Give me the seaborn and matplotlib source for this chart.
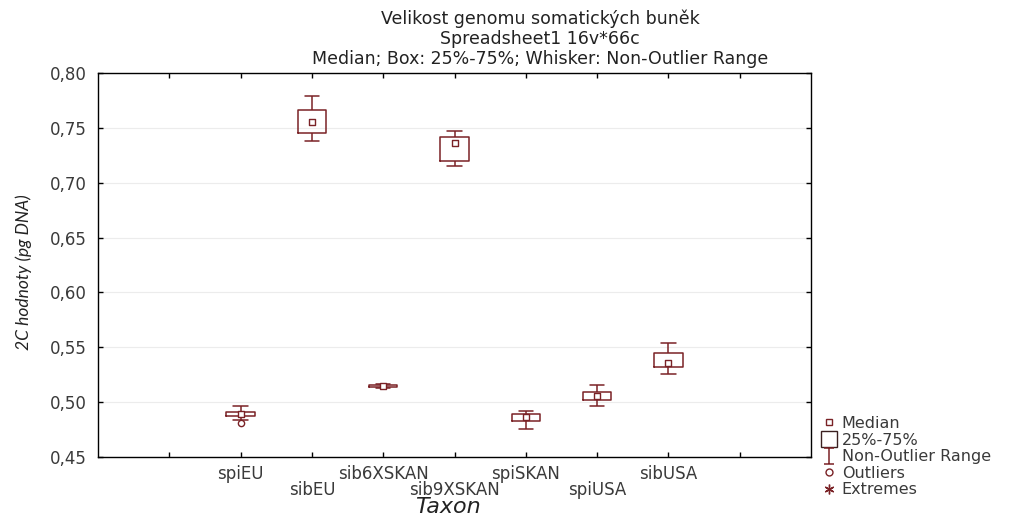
import numpy as np
import pandas as pd
import matplotlib
matplotlib.use("Agg")
import matplotlib.pyplot as plt
from matplotlib.lines import Line2D
from matplotlib.path import Path
import seaborn as sns

# ---- data ----
categories = ["spiEU", "sibEU", "sib6XSKAN", "sib9XSKAN", "spiSKAN", "spiUSA", "sibUSA"]
whisker_low = [0.4837, 0.7380, 0.5132, 0.7152, 0.4752, 0.4964, 0.5253]
q1          = [0.4873, 0.7453, 0.5140, 0.7200, 0.4831, 0.5018, 0.5323]
medians     = [0.4888, 0.7553, 0.5150, 0.7365, 0.4862, 0.5058, 0.5354]
q3          = [0.4913, 0.7663, 0.5160, 0.7420, 0.4892, 0.5090, 0.5450]
whisker_high = [0.4964, 0.7793, 0.5168, 0.7471, 0.4919, 0.5153, 0.5542]
outlier_taxa = ["spiEU"]
outlier_vals = [0.4807]
ytick_vals = [0.45, 0.50, 0.55, 0.60, 0.65, 0.70, 0.75, 0.80]
ytick_labels = ["0,45", "0,50", "0,55", "0,60", "0,65", "0,70", "0,75", "0,80"]
title_lines = ["Velikost genomu somatických buněk",
               "Spreadsheet1 16v*66c",
               "Median; Box: 25%-75%; Whisker: Non-Outlier Range"]

# five-number summary per taxon -> long table
rows = []
for i, c in enumerate(categories):
    for v in (whisker_low[i], q1[i], medians[i], q3[i], whisker_high[i]):
        rows.append({"Taxon": c, "value": v})
df = pd.DataFrame(rows)
df_med = pd.DataFrame({"Taxon": categories, "value": medians})
df_out = pd.DataFrame({"Taxon": outlier_taxa, "value": outlier_vals})

sns.set_theme(style="white")
plt.rcParams["font.family"] = ["DejaVu Sans"]

MAROON = "#7a2226"

fig = plt.figure(figsize=(10.16, 5.19), dpi=100)
ax = fig.add_axes([98/1016, 1-457/519, (811-98)/1016, (457-73)/519])

sns.boxplot(data=df, x="Taxon", y="value", order=categories, ax=ax,
            fill=False, color=MAROON, width=0.4, linewidth=1.1,
            whis=(0, 100), showfliers=False,
            medianprops={"visible": False})
sns.stripplot(data=df_med, x="Taxon", y="value", order=categories, ax=ax,
              jitter=False, marker="s", size=4.5, color="white",
              edgecolor=MAROON, linewidth=1.0, zorder=5)
sns.stripplot(data=df_out, x="Taxon", y="value", order=categories, ax=ax,
              jitter=False, marker="o", size=4.5, color="white",
              edgecolor=MAROON, linewidth=1.0, zorder=5)

ax.set_xlim(-2, 8)
ax.set_ylim(0.45, 0.80)
ax.set_yticks(ytick_vals)
ax.set_yticklabels(ytick_labels)
ax.yaxis.grid(True, color="#ececec", linewidth=0.8)
ax.xaxis.grid(False)
ax.set_axisbelow(True)

xt = list(range(-1, len(categories) + 1))
ax.set_xticks(xt)
ax.set_xticklabels([""] + categories + [""])
ax.tick_params(axis="both", which="major", direction="in", length=3.5, width=1,
               color="black", top=True, right=True, bottom=True, left=True,
               labelsize=12, labelcolor="#3a3a3a")
ax.tick_params(axis="y", pad=8.0)
for k, t in enumerate(ax.xaxis.get_major_ticks()):
    idx = k - 1
    t.set_pad(17 if (idx >= 0 and idx % 2 == 1) else 5.5)

for s in ax.spines.values():
    s.set_visible(True)
    s.set_color("black")
    s.set_linewidth(1.0)

ax.set_xlabel("Taxon", fontsize=16, style="italic", color="#222222")
ax.xaxis.set_label_coords((448-98)/713, -(507-457)/384, transform=ax.transAxes)
ax.xaxis.label.set_va("center")
ax.set_ylabel("2C hodnoty (pg DNA)", fontsize=12.5, style="italic",
              family=["Lato", "DejaVu Sans"], color="#222222")
ax.yaxis.set_label_coords(-(98-32)/713, (457-272)/384)

fig.text(540/1016, 1-10/519, "\n".join(title_lines), ha="center", va="top",
         fontsize=12.5, color="#222222", linespacing=1.12)

# legend
ibeam = Path([(-0.6, 1), (0.6, 1), (0, 1), (0, -1), (-0.6, -1), (0.6, -1)],
             [Path.MOVETO, Path.LINETO, Path.MOVETO, Path.LINETO, Path.MOVETO, Path.LINETO])
handles = [
    Line2D([], [], linestyle="none", marker="s", markersize=5, markerfacecolor="white",
           markeredgecolor=MAROON, markeredgewidth=1.0),
    Line2D([], [], linestyle="none", marker="s", markersize=11, markerfacecolor="white",
           markeredgecolor="#3a2020", markeredgewidth=1.0),
    Line2D([], [], linestyle="none", marker=ibeam, markersize=12, markerfacecolor="none",
           markeredgecolor=MAROON, markeredgewidth=1.1),
    Line2D([], [], linestyle="none", marker="o", markersize=5, markerfacecolor="white",
           markeredgecolor=MAROON, markeredgewidth=1.0),
    Line2D([], [], linestyle="none", marker=(6, 2, 0), markersize=7,
           markeredgecolor=MAROON, markeredgewidth=1.0),
]
labels = ["Median", "25%-75%", "Non-Outlier Range", "Outliers", "Extremes"]
leg = fig.legend(handles, labels, loc="upper left",
                 bbox_to_anchor=(821/1016, 1-416/519), frameon=False,
                 fontsize=11.5, handlelength=1.0, handletextpad=0.3,
                 labelspacing=0.1, borderpad=0, borderaxespad=0)
for t in leg.get_texts():
    t.set_color("#3a3a3a")

fig.savefig("out.png", dpi=100)
